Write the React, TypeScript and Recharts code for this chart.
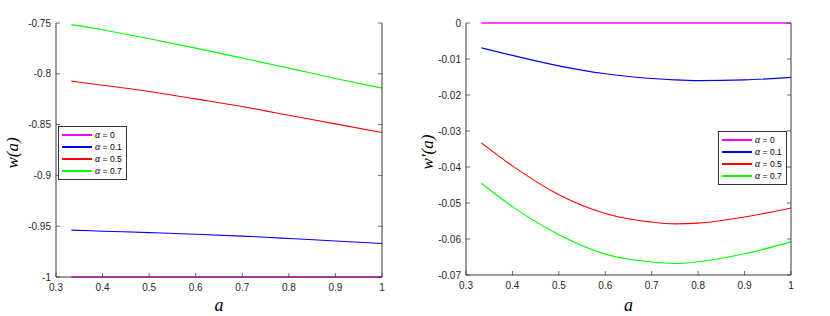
import React from "react"
import { LineChart, Line, XAxis, YAxis } from "recharts"

// scale factor a
const aValues = [0.333, 0.4, 0.5, 0.6, 0.7, 0.75, 0.8, 0.9, 1.0]

// w(a) for each alpha
const wAlpha0 = [-1, -1, -1, -1, -1, -1, -1, -1, -1]
const wAlpha01 = [-0.9539, -0.9549, -0.9563, -0.9579, -0.9598, -0.9609, -0.9621, -0.9645, -0.9671]
const wAlpha05 = [-0.8072, -0.8112, -0.8174, -0.8247, -0.8322, -0.8365, -0.8408, -0.8493, -0.8579]
const wAlpha07 = [-0.7516, -0.7566, -0.7655, -0.7747, -0.7845, -0.7895, -0.7944, -0.8046, -0.8141]

// w'(a) for each alpha
const dwAlpha0 = [0, 0, 0, 0, 0, 0, 0, 0, 0]
const dwAlpha01 = [-0.0069, -0.009, -0.0119, -0.0141, -0.0154, -0.0158, -0.016, -0.0158, -0.0151]
const dwAlpha05 = [-0.0333, -0.0397, -0.0477, -0.0529, -0.0553, -0.0558, -0.0556, -0.0539, -0.0514]
const dwAlpha07 = [-0.0445, -0.051, -0.0588, -0.0642, -0.0664, -0.0668, -0.0663, -0.0641, -0.0608]

const xTicks = [0.3, 0.4, 0.5, 0.6, 0.7, 0.8, 0.9, 1]
const wTicks = [-1, -0.95, -0.9, -0.85, -0.8, -0.75]
const dwTicks = [-0.07, -0.06, -0.05, -0.04, -0.03, -0.02, -0.01, 0]

const seriesNames = ["α = 0", "α = 0.1", "α = 0.5", "α = 0.7"]
const seriesColors = ["#ff00ff", "#0000ff", "#ff0000", "#00ff00"]

const AXIS = "#3a3a3a"
const TICK_FONT = "'Liberation Sans', Arial, sans-serif"
const LABEL_FONT = "'Liberation Serif', 'DejaVu Serif', serif"

const buildRows = (series: number[][]) =>
  aValues.map((a, i) => {
    const row: any = { a }
    series.forEach((s, k) => (row[`s${k}`] = s[i]))
    return row
  })

const BottomTick = (props: any) => {
  const { x, y, payload } = props
  return (
    <g>
      <line x1={x} x2={x} y1={y} y2={y - 4} stroke={AXIS} strokeWidth={0.75} />
      <text x={x} y={y + 14} textAnchor="middle" fontSize={10} fill="#262626" fontFamily={TICK_FONT}>
        {String(payload.value)}
      </text>
    </g>
  )
}

const TopTick = (props: any) => {
  const { x, y } = props
  return <line x1={x} x2={x} y1={y} y2={y + 4} stroke={AXIS} strokeWidth={0.75} />
}

const LeftTick = (props: any) => {
  const { x, y, payload } = props
  return (
    <g>
      <line x1={x} x2={x + 4} y1={y} y2={y} stroke={AXIS} strokeWidth={0.75} />
      <text x={x - 5} y={y + 3.5} textAnchor="end" fontSize={10} fill="#262626" fontFamily={TICK_FONT}>
        {String(payload.value)}
      </text>
    </g>
  )
}

const RightTick = (props: any) => {
  const { x, y } = props
  return <line x1={x} x2={x - 4} y1={y} y2={y} stroke={AXIS} strokeWidth={0.75} />
}

const LegendBox = ({ left, top }: { left: number; top: number }) => (
  <div
    style={{
      position: "absolute",
      left,
      top,
      background: "#fff",
      border: "1px solid #333",
      padding: "2px 4px 2px 3px",
      fontFamily: TICK_FONT,
      fontSize: 8.5,
      lineHeight: "11px",
      color: "#000",
    }}
  >
    {seriesNames.map((n, i) => (
      <div key={n} style={{ display: "flex", alignItems: "center", whiteSpace: "nowrap" }}>
        <span style={{ display: "inline-block", width: 30, height: 1.5, background: seriesColors[i], marginRight: 3 }} />
        <span>
          <span style={{ fontFamily: LABEL_FONT, fontStyle: "italic", fontSize: 10 }}>α</span>
          {n.slice(1)}
        </span>
      </div>
    ))}
  </div>
)

interface PanelProps {
  series: number[][]
  yTicks: number[]
  yDomain: [number, number]
  yLabel: string
  top: number
  bottom: number
  leftWidth: number
  rightWidth: number
  legendPos: { left: number; top: number }
}

function Panel({ series, yTicks, yDomain, yLabel, top, bottom, leftWidth, rightWidth, legendPos }: PanelProps) {
  const data = buildRows(series)
  const w = 415
  const h = 316
  const plotLeft = leftWidth
  const plotRight = w - rightWidth
  const plotBottom = h - bottom
  return (
    <div style={{ position: "relative", width: w, height: h }}>
      <LineChart width={w} height={h} data={data} margin={{ top, right: 0, left: 0, bottom: 0 }}>
        <XAxis
          dataKey="a"
          type="number"
          domain={[0.3, 1]}
          ticks={xTicks}
          height={bottom}
          tickLine={false}
          tickSize={0}
          tickMargin={0}
          stroke={AXIS}
          tick={<BottomTick />}
          interval={0}
        />
        <XAxis
          xAxisId="top"
          orientation="top"
          dataKey="a"
          type="number"
          domain={[0.3, 1]}
          ticks={xTicks}
          height={0}
          tickLine={false}
          tickSize={0}
          tickMargin={0}
          stroke={AXIS}
          tick={<TopTick />}
          interval={0}
        />
        <YAxis
          type="number"
          domain={yDomain}
          ticks={yTicks}
          width={leftWidth}
          tickLine={false}
          tickSize={0}
          tickMargin={0}
          stroke={AXIS}
          tick={<LeftTick />}
          interval={0}
        />
        <YAxis
          yAxisId="right"
          orientation="right"
          type="number"
          domain={yDomain}
          ticks={yTicks}
          width={rightWidth}
          tickLine={false}
          tickSize={0}
          tickMargin={0}
          stroke={AXIS}
          tick={<RightTick />}
          interval={0}
        />
        <Line
          xAxisId="top"
          yAxisId="right"
          dataKey="s0"
          stroke="none"
          dot={false}
          legendType="none"
          isAnimationActive={false}
        />
        {series.map((_, k) => (
          <Line
            key={k}
            dataKey={`s${k}`}
            type="monotone"
            stroke={seriesColors[k]}
            strokeWidth={k === 0 ? 1.6 : 1.1}
            dot={false}
            isAnimationActive={false}
          />
        ))}
      </LineChart>
      <LegendBox left={legendPos.left} top={legendPos.top} />
      <div
        style={{
          position: "absolute",
          left: (plotLeft + plotRight) / 2 - 10,
          top: 297,
          width: 20,
          height: 17,
          textAlign: "center",
          fontFamily: LABEL_FONT,
          fontStyle: "italic",
          fontSize: 18,
          lineHeight: "16px",
        }}
      >
        a
      </div>
      <div
        style={{
          position: "absolute",
          left: 12,
          top: (top + plotBottom) / 2 + 3,
          transform: "translate(-50%, -50%) rotate(-90deg)",
          fontFamily: LABEL_FONT,
          fontStyle: "italic",
          fontSize: 17,
          lineHeight: "17px",
          whiteSpace: "nowrap",
        }}
      >
        {yLabel}
      </div>
    </div>
  )
}

export default function App() {
  return (
    <div style={{ position: "absolute", left: 0, top: 0, width: 830, height: 316, background: "#fff", display: "flex" }}>
      <Panel
        series={[wAlpha0, wAlpha01, wAlpha05, wAlpha07]}
        yTicks={wTicks}
        yDomain={[-1, -0.75]}
        yLabel="w(a)"
        top={23}
        bottom={39}
        leftWidth={56}
        rightWidth={33}
        legendPos={{ left: 58, top: 126 }}
      />
      <Panel
        series={[dwAlpha0, dwAlpha01, dwAlpha05, dwAlpha07]}
        yTicks={dwTicks}
        yDomain={[-0.07, 0]}
        yLabel="w′(a)"
        top={23}
        bottom={41}
        leftWidth={51}
        rightWidth={39}
        legendPos={{ left: 303, top: 131 }}
      />
    </div>
  )
}
